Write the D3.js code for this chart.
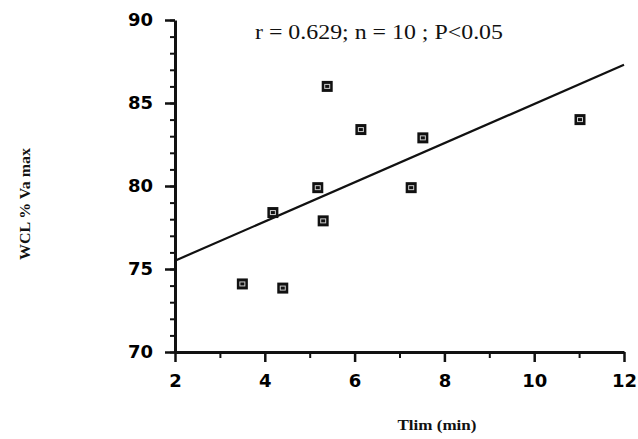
<!DOCTYPE html>
<html>
<head>
<meta charset="utf-8">
<script src="https://cdn.jsdelivr.net/npm/d3@7"></script>
<style>
  body { margin: 0; background: #fff; }
  svg { display: block; }
</style>
</head>
<body>
<div id="wrapper"></div>
<script>
// data
const tlim = [3.5, 4.4, 4.18, 5.18, 5.3, 5.39, 6.14, 7.26, 7.52, 11.02];
const wcl = [74.1, 73.85, 78.4, 79.9, 77.9, 86.0, 83.4, 79.9, 82.9, 84.0];
const fitX = [2, 12];
const fitY = [75.5, 87.3];
const xTicks = [2, 4, 6, 8, 10, 12];
const yTicks = [70, 75, 80, 85, 90];
const statsLabel = "r = 0.629; n = 10 ; P<0.05";

const dimensions = {
  width: 638,
  height: 439,
  margin: { top: 20, right: 14, bottom: 87, left: 175 },
};
dimensions.boundedWidth = dimensions.width - dimensions.margin.left - dimensions.margin.right;
dimensions.boundedHeight = dimensions.height - dimensions.margin.top - dimensions.margin.bottom;

const wrapper = d3.select("#wrapper")
  .append("svg")
    .attr("width", dimensions.width)
    .attr("height", dimensions.height);

const bounds = wrapper.append("g")
    .attr("transform", `translate(${dimensions.margin.left},${dimensions.margin.top})`);

const xScale = d3.scaleLinear()
  .domain([2, 12])
  .range([0, dimensions.boundedWidth]);

const yScale = d3.scaleLinear()
  .domain([70, 90])
  .range([dimensions.boundedHeight, 0]);

// minor ticks first, then the main axes on top
const xMinor = bounds.append("g")
    .attr("transform", `translate(0,${dimensions.boundedHeight})`)
    .call(d3.axisBottom(xScale).tickValues(d3.range(3, 12, 2)).tickSize(6).tickFormat(""));
const yMinor = bounds.append("g")
    .call(d3.axisLeft(yScale).tickValues(d3.range(70, 91, 1)).tickSize(5).tickFormat(""));
[xMinor, yMinor].forEach(g => {
  g.select(".domain").remove();
  g.selectAll("line").attr("stroke", "#111").attr("stroke-width", 2);
});

const xAxis = bounds.append("g")
    .attr("transform", `translate(0,${dimensions.boundedHeight})`)
    .call(d3.axisBottom(xScale).tickValues(xTicks).tickSize(10).tickSizeOuter(0).tickPadding(12));

const yAxis = bounds.append("g")
    .call(d3.axisLeft(yScale).tickValues(yTicks).tickSize(10).tickSizeOuter(0).tickPadding(12));

[xAxis, yAxis].forEach(g => {
  g.select(".domain").attr("stroke", "#111").attr("stroke-width", 3);
  g.selectAll(".tick line").attr("stroke", "#111").attr("stroke-width", 2.5);
  g.selectAll(".tick text")
    .attr("fill", "#000")
    .style("font-family", "'DejaVu Sans', sans-serif")
    .style("font-weight", "bold")
    .style("font-size", "18px");
});

// regression line
const fitData = fitX.map((x, i) => ({ x, y: fitY[i] }));
bounds.append("path")
    .datum(fitData)
    .attr("d", d3.line().x(d => xScale(d.x)).y(d => yScale(d.y)))
    .attr("fill", "none")
    .attr("stroke", "#111")
    .attr("stroke-width", 2.2);

// points
const points = tlim.map((x, i) => ({ x, y: wcl[i] }));
const markers = bounds.selectAll(".pt")
  .data(points)
  .enter().append("g")
    .attr("class", "pt")
    .attr("transform", d => `translate(${xScale(d.x)},${yScale(d.y)})`);
markers.append("rect")
    .attr("x", -5.5).attr("y", -5.5)
    .attr("width", 11).attr("height", 11)
    .attr("fill", "#111");
markers.append("rect")
    .attr("x", -2.5).attr("y", -2)
    .attr("width", 5).attr("height", 4)
    .attr("fill", "none")
    .attr("stroke", "#ccc")
    .attr("stroke-width", 1);

// stats annotation
wrapper.append("text")
    .attr("x", 255)
    .attr("y", 39)
    .attr("textLength", 248)
    .attr("lengthAdjust", "spacingAndGlyphs")
    .text(statsLabel)
    .style("font-family", "'Liberation Serif', 'Times New Roman', serif")
    .style("font-size", "20px")
    .attr("fill", "#111");

// axis labels
wrapper.append("text")
    .attr("transform", "translate(30,204) rotate(-90)")
    .attr("text-anchor", "middle")
    .attr("textLength", 112)
    .attr("lengthAdjust", "spacingAndGlyphs")
    .text("WCL % Va max")
    .style("font-family", "'Liberation Serif', 'Times New Roman', serif")
    .style("font-weight", "bold")
    .style("font-size", "15px")
    .attr("fill", "#111");

wrapper.append("text")
    .attr("x", 437)
    .attr("y", 430)
    .attr("text-anchor", "middle")
    .attr("textLength", 79)
    .attr("lengthAdjust", "spacingAndGlyphs")
    .text("Tlim (min)")
    .style("font-family", "'Liberation Serif', 'Times New Roman', serif")
    .style("font-weight", "bold")
    .style("font-size", "15px")
    .attr("fill", "#111");
</script>
</body>
</html>
